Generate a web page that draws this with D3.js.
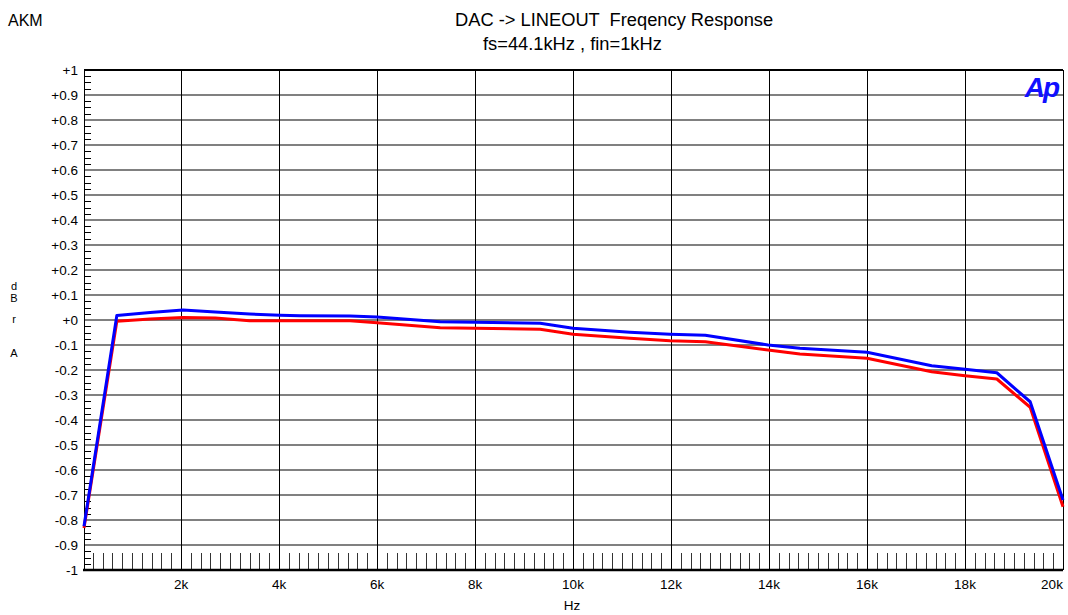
<!DOCTYPE html>
<html><head><meta charset="utf-8">
<script src="https://cdn.jsdelivr.net/npm/d3@7"></script>
<style>body{margin:0;background:#fff}svg{display:block}text{font-family:"Liberation Sans",Arial,sans-serif}</style>
</head><body>
<svg id="c" width="1068" height="615"></svg>
<script>
const freqs = [20, 690, 1370, 2040, 2700, 3400, 4020, 4430, 5450, 6000, 7290, 9330, 10000, 11160, 11980, 12700, 13980, 14630, 16000, 17320, 18000, 18650, 19330, 20000];
const blueSeries = [-0.825, 0.018, 0.03, 0.04, 0.032, 0.024, 0.019, 0.017, 0.016, 0.012, -0.007, -0.013, -0.033, -0.049, -0.057, -0.061, -0.1, -0.113, -0.129, -0.183, -0.197, -0.211, -0.327, -0.72];
const redSeries = [-0.832, -0.005, 0.004, 0.01, 0.008, -0.003, -0.003, -0.003, -0.003, -0.011, -0.031, -0.037, -0.057, -0.073, -0.083, -0.087, -0.12, -0.136, -0.153, -0.207, -0.223, -0.236, -0.349, -0.747];
const xTickValues = [2000, 4000, 6000, 8000, 10000, 12000, 14000, 16000, 18000, 20000];
const xTickLabels = ["2k", "4k", "6k", "8k", "10k", "12k", "14k", "16k", "18k", "20k"];
const yTickValues = [1, 0.9, 0.8, 0.7, 0.6, 0.5, 0.4, 0.3, 0.2, 0.1, 0, -0.1, -0.2, -0.3, -0.4, -0.5, -0.6, -0.7, -0.8, -0.9, -1];
const yTickLabels = ["+1", "+0.9", "+0.8", "+0.7", "+0.6", "+0.5", "+0.4", "+0.3", "+0.2", "+0.1", "+0", "-0.1", "-0.2", "-0.3", "-0.4", "-0.5", "-0.6", "-0.7", "-0.8", "-0.9", "-1"];

const svg = d3.select("#c");
const L = 84, R = 1063, T = 70, B = 570;
const x = d3.scaleLinear().domain([20, 20000]).range([L, R]);
const y = d3.scaleLinear().domain([-1, 1]).range([B, T]);

// horizontal grid
svg.append("g").selectAll("line").data(yTickValues.filter(v => v < 1 && v > -1)).join("line")
  .attr("x1", L).attr("x2", R).attr("y1", d => y(d)).attr("y2", d => y(d))
  .attr("stroke", "#808080").attr("stroke-width", 2);
// vertical grid
svg.append("g").selectAll("line").data(xTickValues.filter(v => v < 20000)).join("line")
  .attr("x1", d => x(d)).attr("x2", d => x(d)).attr("y1", T).attr("y2", B)
  .attr("stroke", "#000").attr("stroke-width", 1).attr("shape-rendering", "crispEdges");

// x minor ticks
const xMinor = d3.range(200, 20000, 200).filter(v => v % 2000 !== 0);
svg.append("g").selectAll("line").data(xMinor).join("line")
  .attr("x1", d => Math.round(x(d)) + 0.5).attr("x2", d => Math.round(x(d)) + 0.5).attr("y1", B).attr("y2", B - 17)
  .attr("stroke", "#333").attr("stroke-width", 1);
// y minor ticks
const yMinor = d3.range(-40, 41).map(i => i * 0.025).filter(v => Math.abs(Math.round(v * 10) - v * 10) > 0.01);
svg.append("g").selectAll("line").data(yMinor).join("line")
  .attr("x1", L).attr("x2", L + 7).attr("y1", d => Math.round(y(d)) + 0.5).attr("y2", d => Math.round(y(d)) + 0.5)
  .attr("stroke", "#000").attr("stroke-width", 1);

// frame
svg.append("line").attr("x1", L).attr("x2", R).attr("y1", T).attr("y2", T).attr("stroke", "#000").attr("stroke-width", 2);
svg.append("line").attr("x1", L - 1).attr("x2", R).attr("y1", B).attr("y2", B).attr("stroke", "#000").attr("stroke-width", 2.5);
svg.append("line").attr("x1", L + 0.5).attr("x2", L + 0.5).attr("y1", T).attr("y2", B).attr("stroke", "#000").attr("stroke-width", 1);
svg.append("line").attr("x1", R + 0.5).attr("x2", R + 0.5).attr("y1", T).attr("y2", B).attr("stroke", "#000").attr("stroke-width", 1);

// y labels
svg.append("g").selectAll("text").data(yTickValues).join("text")
  .attr("x", L - 6).attr("y", d => y(d) + 5).attr("text-anchor", "end")
  .attr("font-size", 13.5).attr("fill", "#000").text((d, i) => yTickLabels[i]);
// x labels
svg.append("g").selectAll("text").data(xTickValues).join("text")
  .attr("x", d => d === 20000 ? x(d) - 11 : x(d)).attr("y", 589).attr("text-anchor", "middle")
  .attr("font-size", 13.5).attr("fill", "#000").text((d, i) => xTickLabels[i]);

// lines
const line = d3.line().x((d, i) => x(freqs[i])).y(d => y(d));
svg.append("path").datum(redSeries).attr("d", line).attr("fill", "none").attr("stroke", "#ff0000").attr("stroke-width", 3).attr("stroke-linejoin", "round");
svg.append("path").datum(blueSeries).attr("d", line).attr("fill", "none").attr("stroke", "#0000ff").attr("stroke-width", 3).attr("stroke-linejoin", "round");

// titles
svg.append("text").attr("x", 8).attr("y", 26).attr("font-size", 16).text("AKM");
svg.append("text").attr("x", 455).attr("y", 26).attr("font-size", 18.3).attr("xml:space", "preserve").text("DAC -> LINEOUT  Freqency Response");
svg.append("text").attr("x", 483).attr("y", 50).attr("font-size", 18.3).text("fs=44.1kHz , fin=1kHz");
svg.append("text").attr("x", 572).attr("y", 610).attr("font-size", 13.5).attr("text-anchor", "middle").text("Hz");
// y axis title stacked
[["d", 290], ["B", 302], ["r", 323], ["A", 357]].forEach(([t, yy]) =>
  svg.append("text").attr("x", 14).attr("y", yy).attr("font-size", 11).attr("text-anchor", "middle").text(t));
// Ap logo
svg.append("text").attr("x", 1058).attr("y", 97).attr("text-anchor", "end").attr("font-size", 28)
  .attr("font-weight", "bold").attr("font-style", "italic").attr("fill", "#1010ff").attr("letter-spacing", -2).text("Ap");
</script>
</body></html>
